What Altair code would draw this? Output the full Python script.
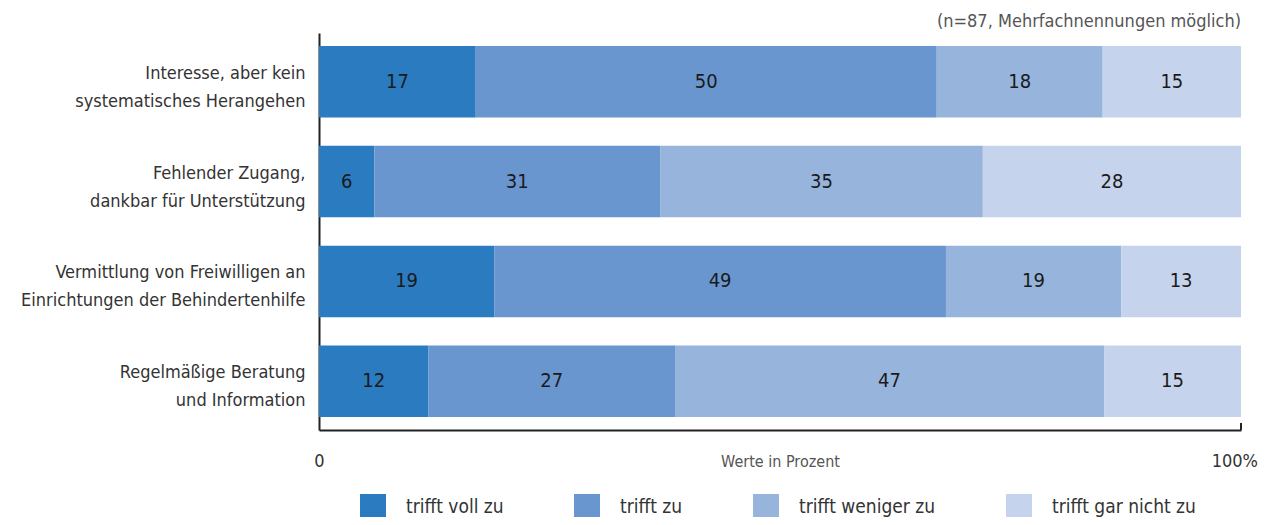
import altair as alt
import pandas as pd

questions = [
    "Interesse, aber kein |systematisches Herangehen",
    "Fehlender Zugang, |dankbar für Unterstützung",
    "Vermittlung von Freiwilligen an|Einrichtungen der Behindertenhilfe",
    "Regelmäßige Beratung |und Information",
]
categories = ["trifft voll zu", "trifft zu", "trifft weniger zu", "trifft gar nicht zu"]
colors = ["#2a7bc0", "#6a96cf", "#97b4dc", "#c5d4ec"]

voll = [17, 6, 19, 12]
zu = [50, 31, 49, 27]
weniger = [18, 35, 19, 47]
garnicht = [15, 28, 13, 15]

axis_ends = [100]
axis_end_labels = ["100%"]

series = [voll, zu, weniger, garnicht]
rows = []
for ci, (cat, vals) in enumerate(zip(categories, series)):
    for qi, q in enumerate(questions):
        rows.append({"question": q, "qorder": qi, "category": cat, "corder": ci, "value": vals[qi]})
df = pd.DataFrame(rows)

FONT = "DejaVu Sans Condensed, sans-serif"
W, H = 922, 397

base = alt.Chart(df).transform_joinaggregate(
    total="sum(value)", groupby=["question"]
).transform_calculate(
    pct="datum.value / datum.total * 100"
).transform_stack(
    stack="pct", groupby=["question"], sort=[alt.SortField("corder", order="ascending")], as_=["x0", "x1"]
).transform_calculate(
    mid="(datum.x0 + datum.x1) / 2"
)

yenc = alt.Y(
    "question:N",
    sort=questions,
    scale=alt.Scale(paddingInner=0.285, paddingOuter=0.13),
    axis=alt.Axis(
        title=None,
        labelExpr="split(datum.label, '|')",
        labelFont=FONT,
        labelFontSize=18,
        labelColor="#333333",
        labelLineHeight=28,
        labelPadding=14,
        labelOffset=-8,
        ticks=False,
        domainColor="#222222",
        domainWidth=2,
        labelLimit=400,
    ),
)

xscale = alt.Scale(domain=[0, 100], nice=False)

bars = base.mark_bar().encode(
    x=alt.X(
        "x0:Q",
        scale=xscale,
        axis=alt.Axis(
            values=[0],
            labelExpr="'0'",
            labelFont=FONT,
            labelFontSize=18,
            labelColor="#333333",
            labelBaseline="middle",
            labelPadding=31,
            labelFlush=False,
            ticks=False,
            grid=False,
            domainColor="#222222",
            domainWidth=2,
            title="Werte in Prozent",
            titleFont=FONT,
            titleFontSize=16,
            titleFontWeight="normal",
            titleColor="#555555",
            titleBaseline="middle",
            titleY=31,
        ),
    ),
    x2="x1:Q",
    y=yenc,
    color=alt.Color(
        "category:N",
        sort=categories,
        scale=alt.Scale(domain=categories, range=colors),
        legend=alt.Legend(
            title=None,
            orient="none",
            direction="horizontal",
            legendX=41,
            legendY=461,
            symbolType="square",
            symbolSize=676,
            symbolStrokeWidth=0,
            symbolOpacity=1,
            labelFont=FONT,
            labelFontSize=19,
            labelColor="#333333",
            labelOffset=20,
            columnPadding=70,
            padding=0,
            labelLimit=300,
        ),
    ),
)

labels = base.mark_text(font=FONT, fontSize=20, color="#1a1a1a", baseline="middle").encode(
    x=alt.X("mid:Q", scale=xscale),
    y=alt.Y("question:N", sort=questions),
    text="value:Q",
)

enddf = pd.DataFrame({"v": axis_ends, "t": axis_end_labels})

endtick = alt.Chart(enddf).mark_rule(color="#222222", strokeWidth=2).encode(
    x=alt.X("v:Q", scale=xscale),
    y=alt.value(H - 7),
    y2=alt.value(H),
)

endlabel = alt.Chart(enddf).mark_text(
    font=FONT, fontSize=18, color="#333333", align="right", baseline="middle", dx=17
).encode(
    x=alt.X("v:Q", scale=xscale),
    y=alt.value(H + 32),
    text="t:N",
)

chart = alt.layer(bars, labels, endtick, endlabel).properties(
    width=W,
    height=H,
    autosize=alt.AutoSizeParams(type="none"),
    padding={"left": 311, "top": 25, "right": 17, "bottom": 87},
    title=alt.TitleParams(
        "(n=87, Mehrfachnennungen möglich)",
        anchor="end",
        frame="group",
        font=FONT,
        fontSize=18,
        fontWeight="normal",
        color="#555555",
        offset=2,
    ),
).configure_view(stroke=None)

chart.save("out.html", embed_options={"renderer": "svg", "actions": False})
